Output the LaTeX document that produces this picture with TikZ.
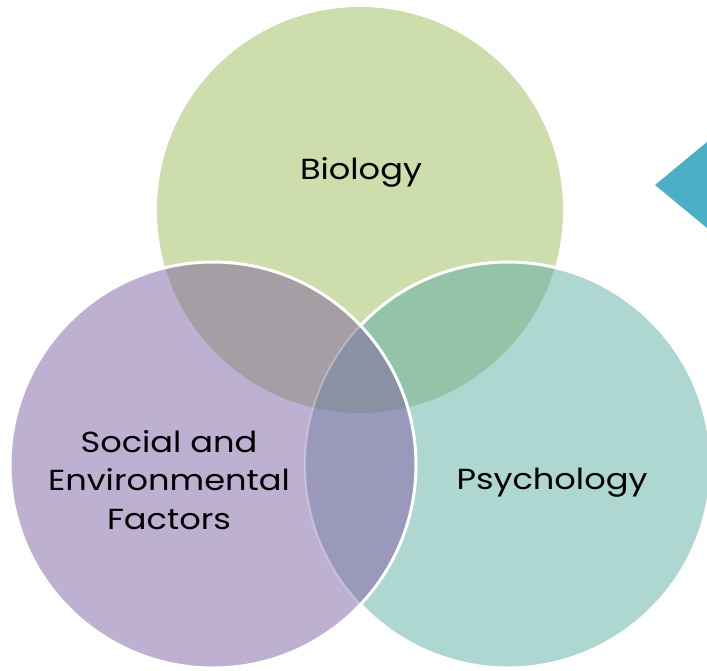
\documentclass[tikz,border=0pt]{standalone}
\usepackage{fontspec}
\setmainfont{Poppins}[FakeStretch=1.16]
\definecolor{bio}{HTML}{CDDDAC}
\definecolor{soc}{HTML}{BEB0D0}
\definecolor{psy}{HTML}{AFD7D2}
\definecolor{biosoc}{HTML}{A59EA5}
\definecolor{biopsy}{HTML}{93C4A8}
\definecolor{socpsy}{HTML}{9A99BC}
\definecolor{allthree}{HTML}{8A91A3}
\definecolor{tri}{HTML}{4BAFC6}
\tikzset{
  lbl/.style={font=\fontsize{29}{38.5}\selectfont, text=black, align=center, inner sep=0pt},
  rim/.style={draw=white, line width=3pt}
}
\begin{document}
\begin{tikzpicture}[x=1pt,y=-1pt]
\useasboundingbox (0,0) rectangle (707,670);
\def\R{203}
\coordinate (B) at (360,210);
\coordinate (S) at (213,465);
\coordinate (P) at (508,465);
\fill[bio] (B) circle (\R);
\fill[psy] (P) circle (\R);
\fill[soc] (S) circle (\R);
\begin{scope}\clip (B) circle (\R); \fill[biopsy] (P) circle (\R);\end{scope}
\begin{scope}\clip (B) circle (\R); \fill[biosoc] (S) circle (\R);\end{scope}
\begin{scope}\clip (P) circle (\R); \fill[socpsy] (S) circle (\R);\end{scope}
\begin{scope}\clip (B) circle (\R); \clip (P) circle (\R); \fill[allthree] (S) circle (\R);\end{scope}
% psychology rim
\draw[rim] (P) ++(-136.6:\R) arc[start angle=-136.6, end angle=136.6, radius=\R];
\draw[draw=white, line width=2pt, opacity=0.3] (P) ++(136.6:\R) arc[start angle=136.6, end angle=223.4, radius=\R];
% social rim
\draw[rim] (S) circle (\R);
% labels
\node[lbl] (bl) at (361,172) {Biology};
\node[lbl] (sl) at (169,480) {Social and\\Environmental\\Factors};
\node[lbl] (pl) at (552,483) {Psychology};
% triangle
\coordinate (t1) at (655,185);
\coordinate (t2) at (707,142);
\coordinate (t3) at (707,228);
\fill[tri] (t1) -- (t2) -- (t3) -- cycle;
\end{tikzpicture}
\end{document}
